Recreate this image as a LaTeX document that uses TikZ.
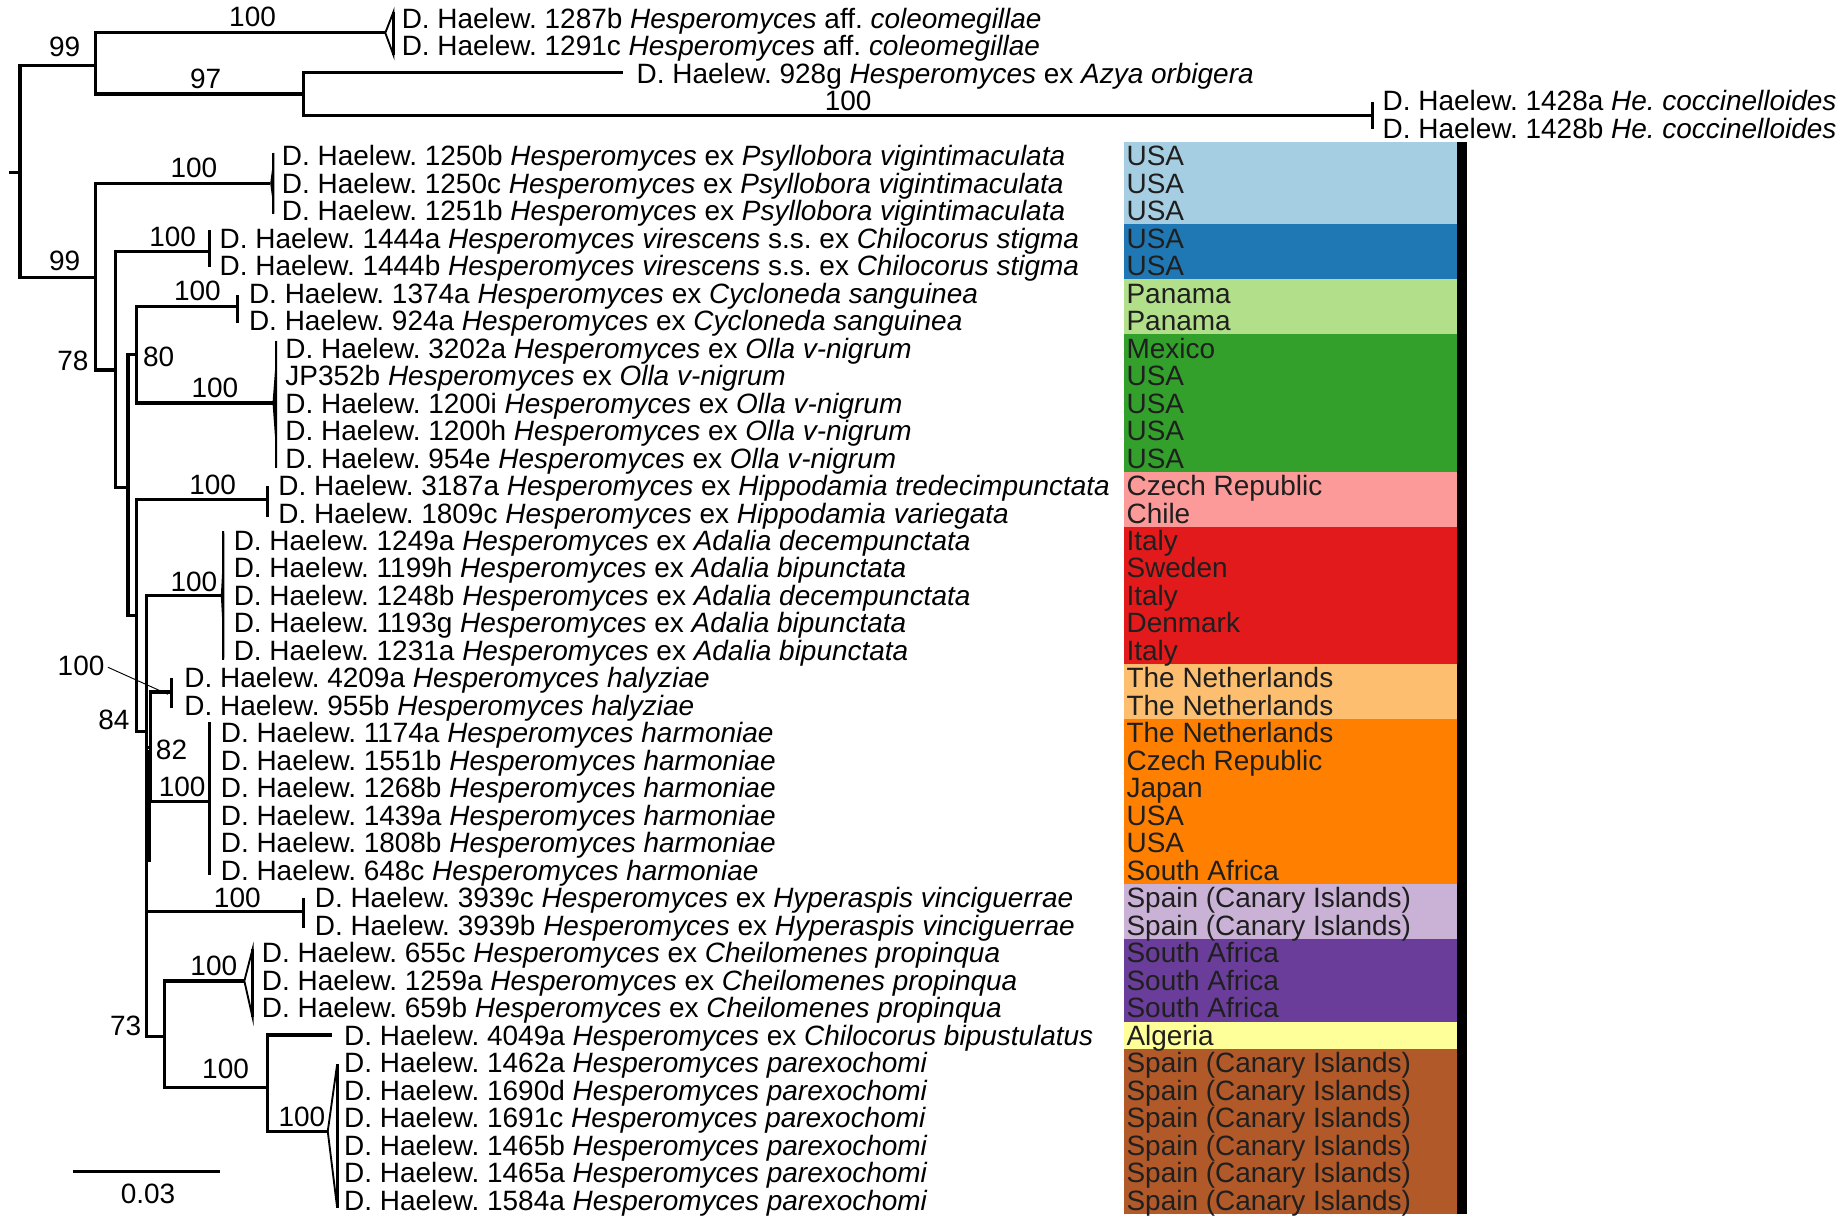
\documentclass[tikz,border=0pt]{standalone}
\usepackage{fontspec}
\setmainfont{Liberation Sans}
\frenchspacing
\definecolor{cLB}{HTML}{A6CEE3}
\definecolor{cDB}{HTML}{1F78B4}
\definecolor{cLG}{HTML}{B2DF8A}
\definecolor{cDG}{HTML}{33A02C}
\definecolor{cPK}{HTML}{FB9A99}
\definecolor{cRD}{HTML}{E31A1C}
\definecolor{cLO}{HTML}{FDBF6F}
\definecolor{cOR}{HTML}{FF7F00}
\definecolor{cLV}{HTML}{CAB2D6}
\definecolor{cPU}{HTML}{6A3D9A}
\definecolor{cYE}{HTML}{FFFF99}
\definecolor{cBR}{HTML}{B15928}
\begin{document}
\begin{tikzpicture}[x=0.5pt,y=-0.5pt,
  br/.style={line width=1.35pt},
  tickline/.style={line width=1.35pt},
  wedgeline/.style={line width=0.8pt},
  leader/.style={line width=0.4pt},
  txt/.style={font=\fontsize{11.9}{14}\selectfont\frenchspacing, inner sep=0pt, outer sep=0pt},
  leaf/.style={txt, anchor=base west},
  sup/.style={txt, anchor=center},
  ctry/.style={txt, anchor=base west, text=black!88}]
\useasboundingbox (0,0) rectangle (1568,1045);

% ---- colour panel ----
\foreach \a/\b/\c in {5/8/cLB, 8/10/cDB, 10/12/cLG, 12/17/cDG, 17/19/cPK, 19/24/cRD, 24/26/cLO, 26/32/cOR, 32/34/cLV, 34/37/cPU, 37/38/cYE, 38/44/cBR}
  \fill[\c] (957,{3.8+23.4*\a}) rectangle (1240,{3.8+23.4*\b});
\fill[black] (1240,120.8) rectangle (1249,1033.4);

% ---- tree coordinates ----
\coordinate (stub) at (8,146.5);
\coordinate (root) at (17,146.5);
\coordinate (nA) at (81,55.5);
\coordinate (tA) at (328,28);
\coordinate (nB) at (258,80);
\coordinate (t928) at (530,62);
\coordinate (t1428) at (1168,98);
\coordinate (nC) at (81,236);
\coordinate (tPsy) at (230,156);
\coordinate (nD) at (98,315);
\coordinate (t1444) at (178,214);
\coordinate (nE) at (109,415);
\coordinate (nF) at (116,302);
\coordinate (tCyc) at (202,261);
\coordinate (tOll) at (232,343);
\coordinate (nG) at (116,524);
\coordinate (tHip) at (228,425);
\coordinate (nH) at (125,623);
\coordinate (tAda) at (188,507);
\coordinate (nI) at (128,636);
\coordinate (tHal) at (146,589);
\coordinate (tHar) at (178,682);
\coordinate (tHyp) at (258,776);
\coordinate (nJ) at (140,882);
\coordinate (tChe) at (208,835);
\coordinate (nK) at (228,926);
\coordinate (t4049) at (283,881);
\coordinate (tPar) at (279,963);

% ---- branches ----
\draw[br] (stub) -- (root);
\draw[br] (root) |- (nA);
\draw[br] (root) |- (nC);
\draw[br] (nA) |- (tA);
\draw[br] (nA) |- (nB);
\draw[br] (nB) |- (t928);
\draw[br] (nB) |- (t1428);
\draw[br] (nC) |- (tPsy);
\draw[br] (nC) |- (nD);
\draw[br] (nD) |- (t1444);
\draw[br] (nD) |- (nE);
\draw[br] (nE) |- (nF);
\draw[br] (nE) |- (nG);
\draw[br] (nF) |- (tCyc);
\draw[br] (nF) |- (tOll);
\draw[br] (nG) |- (tHip);
\draw[br] (nG) |- (nH);
\draw[br] (nH) |- (tAda);
\draw[br] (nH) |- (nI);
\draw[br] (nI) |- (tHal);
\draw[br] (nI) |- (tHar);
\draw[br] (nH) |- (tHyp);
\draw[br] (nH) |- (nJ);
\draw[br] (nJ) |- (tChe);
\draw[br] (nJ) |- (nK);
\draw[br] (nK) |- (t4049);
\draw[br] (nK) |- (tPar);
\fill[black] (124.2,638) rectangle (128.8,734);

% ---- collapsed clades ----
\draw[wedgeline] (tA) -- (335,10) -- (335,47) -- cycle;
\draw[tickline] (335,10) -- (335,47);
\draw[tickline] (1168,87) -- (1168,110);
\fill[black] (tPsy) -- (233.5,130) -- (233.5,182) -- cycle;
\draw[line width=0.9pt] (232.5,130) -- (232.5,182);
\draw[tickline] (t1444) ++(0,-18) -- ++(0,31);
\draw[tickline] (tCyc) ++(0,-10) -- ++(0,24);
\fill[black] (tOll) -- (236,290) -- (236,398) -- cycle;
\draw[line width=0.9pt] (235,290) -- (235,398);
\draw[tickline] (tHip) ++(0,-11) -- ++(0,26);
\fill[black] (tAda) -- (191,452) -- (191,562) -- cycle;
\draw[line width=0.9pt] (190,452) -- (190,562);
\draw[tickline] (tHal) ++(0,-12) -- ++(0,26);
\draw[tickline] (178,615) -- (178,745);
\draw[tickline] (tHyp) ++(0,-12) -- ++(0,26);
\draw[wedgeline] (tChe) -- (215,808) -- (215,866) -- cycle;
\draw[tickline] (215,808) -- (215,866);
\draw[wedgeline] (tPar) -- (287,906) -- (287,1028) -- cycle;
\draw[tickline] (287,906) -- (287,1028);

% ---- support values ----
\node[sup] (s1) at (215,14) {100};
\node[sup] (s2) at (55,40) {99};
\node[sup] (s3) at (175,67) {97};
\node[sup] (s4) at (722,86) {100};
\node[sup] (s5) at (165,143) {100};
\node[sup] (s6) at (55,222) {99};
\node[sup] (s7) at (147,202) {100};
\node[sup] (s8) at (168,248) {100};
\node[sup] (s9) at (135,304) {80};
\node[sup] (s10) at (62,307) {78};
\node[sup] (s11) at (183,330) {100};
\node[sup] (s12) at (181,413) {100};
\node[sup] (s13) at (165,495) {100};
\node[sup] (s14) at (69,567) {100};
\node[sup] (s15) at (97,613) {84};
\node[sup] (s16) at (146,638) {82};
\node[sup] (s17) at (155,670) {100};
\node[sup] (s18) at (202,764) {100};
\node[sup] (s19) at (182,822) {100};
\node[sup] (s20) at (107,873) {73};
\node[sup] (s21) at (192,910) {100};
\node[sup] (s22) at (257,951) {100};
\coordinate (leadend) at (143,591);
\draw[leader] (s14.east) ++(3,1) -- (leadend);

% ---- scale bar ----
\coordinate (sbL) at (62,997);
\coordinate (sbR) at (187,997);
\draw[br] (sbL) -- (sbR);
\node[sup] (sbT) at (126,1016) {0.03};

% ---- leaves ----
\foreach \r/\x/\t in {
 0/342/{D. Haelew. 1287b \textit{Hesperomyces} aff. \textit{coleomegillae}},
 1/342/{D. Haelew. 1291c \textit{Hesperomyces} aff. \textit{coleomegillae}},
 2/542/{D. Haelew. 928g \textit{Hesperomyces} ex \textit{Azya orbigera}},
 3/1177/{D. Haelew. 1428a \textit{He. coccinelloides}},
 4/1177/{D. Haelew. 1428b \textit{He. coccinelloides}},
 5/240/{D. Haelew. 1250b \textit{Hesperomyces} ex \textit{Psyllobora vigintimaculata}},
 6/240/{D. Haelew. 1250c \textit{Hesperomyces} ex \textit{Psyllobora vigintimaculata}},
 7/240/{D. Haelew. 1251b \textit{Hesperomyces} ex \textit{Psyllobora vigintimaculata}},
 8/187/{D. Haelew. 1444a \textit{Hesperomyces virescens} s.s. ex \textit{Chilocorus stigma}},
 9/187/{D. Haelew. 1444b \textit{Hesperomyces virescens} s.s. ex \textit{Chilocorus stigma}},
 10/212/{D. Haelew. 1374a \textit{Hesperomyces} ex \textit{Cycloneda sanguinea}},
 11/212/{D. Haelew. 924a \textit{Hesperomyces} ex \textit{Cycloneda sanguinea}},
 12/243/{D. Haelew. 3202a \textit{Hesperomyces} ex \textit{Olla v-nigrum}},
 13/243/{JP352b \textit{Hesperomyces} ex \textit{Olla v-nigrum}},
 14/243/{D. Haelew. 1200i \textit{Hesperomyces} ex \textit{Olla v-nigrum}},
 15/243/{D. Haelew. 1200h \textit{Hesperomyces} ex \textit{Olla v-nigrum}},
 16/243/{D. Haelew. 954e \textit{Hesperomyces} ex \textit{Olla v-nigrum}},
 17/237/{D. Haelew. 3187a \textit{Hesperomyces} ex \textit{Hippodamia tredecimpunctata}},
 18/237/{D. Haelew. 1809c \textit{Hesperomyces} ex \textit{Hippodamia variegata}},
 19/199/{D. Haelew. 1249a \textit{Hesperomyces} ex \textit{Adalia decempunctata}},
 20/199/{D. Haelew. 1199h \textit{Hesperomyces} ex \textit{Adalia bipunctata}},
 21/199/{D. Haelew. 1248b \textit{Hesperomyces} ex \textit{Adalia decempunctata}},
 22/199/{D. Haelew. 1193g \textit{Hesperomyces} ex \textit{Adalia bipunctata}},
 23/199/{D. Haelew. 1231a \textit{Hesperomyces} ex \textit{Adalia bipunctata}},
 24/157/{D. Haelew. 4209a \textit{Hesperomyces halyziae}},
 25/157/{D. Haelew. 955b \textit{Hesperomyces halyziae}},
 26/188/{D. Haelew. 1174a \textit{Hesperomyces harmoniae}},
 27/188/{D. Haelew. 1551b \textit{Hesperomyces harmoniae}},
 28/188/{D. Haelew. 1268b \textit{Hesperomyces harmoniae}},
 29/188/{D. Haelew. 1439a \textit{Hesperomyces harmoniae}},
 30/188/{D. Haelew. 1808b \textit{Hesperomyces harmoniae}},
 31/188/{D. Haelew. 648c \textit{Hesperomyces harmoniae}},
 32/268/{D. Haelew. 3939c \textit{Hesperomyces} ex \textit{Hyperaspis vinciguerrae}},
 33/268/{D. Haelew. 3939b \textit{Hesperomyces} ex \textit{Hyperaspis vinciguerrae}},
 34/223/{D. Haelew. 655c \textit{Hesperomyces} ex \textit{Cheilomenes propinqua}},
 35/223/{D. Haelew. 1259a \textit{Hesperomyces} ex \textit{Cheilomenes propinqua}},
 36/223/{D. Haelew. 659b \textit{Hesperomyces} ex \textit{Cheilomenes propinqua}},
 37/293/{D. Haelew. 4049a \textit{Hesperomyces} ex \textit{Chilocorus bipustulatus}},
 38/293/{D. Haelew. 1462a \textit{Hesperomyces parexochomi}},
 39/293/{D. Haelew. 1690d \textit{Hesperomyces parexochomi}},
 40/293/{D. Haelew. 1691c \textit{Hesperomyces parexochomi}},
 41/293/{D. Haelew. 1465b \textit{Hesperomyces parexochomi}},
 42/293/{D. Haelew. 1465a \textit{Hesperomyces parexochomi}},
 43/293/{D. Haelew. 1584a \textit{Hesperomyces parexochomi}}}
  \node[leaf] (leaf\r) at (\x,{15.5+23.4*\r+8.5}) {\t};

% ---- countries ----
\foreach \r/\t in {5/USA,6/USA,7/USA,8/USA,9/USA,10/Panama,11/Panama,12/Mexico,13/USA,14/USA,15/USA,16/USA,
 17/Czech Republic,18/Chile,19/Italy,20/Sweden,21/Italy,22/Denmark,23/Italy,24/The Netherlands,25/The Netherlands,
 26/The Netherlands,27/Czech Republic,28/Japan,29/USA,30/USA,31/South Africa,
 32/Spain (Canary Islands),33/Spain (Canary Islands),34/South Africa,35/South Africa,36/South Africa,37/Algeria,
 38/Spain (Canary Islands),39/Spain (Canary Islands),40/Spain (Canary Islands),41/Spain (Canary Islands),
 42/Spain (Canary Islands),43/Spain (Canary Islands)}
  \node[ctry] (ctry\r) at (959,{15.5+23.4*\r+8.5}) {\t};
\end{tikzpicture}
\end{document}
